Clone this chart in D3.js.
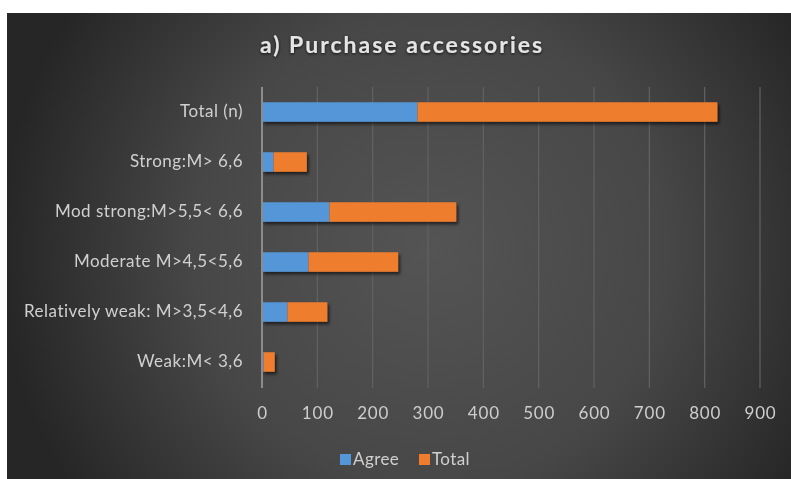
<!DOCTYPE html>
<html>
<head>
<meta charset="utf-8">
<script src="https://cdn.jsdelivr.net/npm/d3@7"></script>
<style>
  html, body { margin: 0; padding: 0; background: #ffffff; }
  svg { display: block; }
</style>
</head>
<body>
<svg id="chart" width="791" height="479"></svg>
<script>
// Attitude groups, top to bottom
const categories = [
  "Total (n)",
  "Strong:M> 6,6",
  "Mod strong:M>5,5< 6,6",
  "Moderate M>4,5<5,6",
  "Relatively weak: M>3,5<4,6",
  "Weak:M< 3,6"
];
// Stacked series values
const agreeValues = [281, 21, 122, 84, 46, 3];
const totalValues = [542, 60, 229, 162, 72, 20];
const seriesNames = ["Agree", "Total"];
const xTicks = [0, 100, 200, 300, 400, 500, 600, 700, 800, 900];
const titleText = "a) Purchase accessories";

const colors = { Agree: "#5596d8", Total: "#ee7d2e" };
const FONT = "Lato, 'Open Sans', sans-serif";

const svg = d3.select("#chart");
const W = 791, H = 479;

// Background panel with a soft radial gradient
const defs = svg.append("defs");
const grad = defs.append("radialGradient")
  .attr("id", "bg").attr("gradientUnits", "userSpaceOnUse")
  .attr("cx", 430).attr("cy", 250).attr("r", 430);
grad.append("stop").attr("offset", "0%").attr("stop-color", "#545454");
grad.append("stop").attr("offset", "55%").attr("stop-color", "#474747");
grad.append("stop").attr("offset", "100%").attr("stop-color", "#262626");

const shadow = defs.append("filter").attr("id", "barShadow")
  .attr("x", "-10%").attr("y", "-30%").attr("width", "130%").attr("height", "180%");
shadow.append("feDropShadow").attr("dx", 2).attr("dy", 2.5)
  .attr("stdDeviation", 1.8).attr("flood-color", "#000").attr("flood-opacity", 0.6);

const glow = defs.append("filter").attr("id", "titleGlow")
  .attr("x", "-10%").attr("y", "-40%").attr("width", "120%").attr("height", "180%");
glow.append("feDropShadow").attr("dx", 0).attr("dy", 1)
  .attr("stdDeviation", 1.5).attr("flood-color", "#000").attr("flood-opacity", 0.8);

const soft = defs.append("filter").attr("id", "soft");
soft.append("feGaussianBlur").attr("stdDeviation", 0.35);

svg.append("rect").attr("x", 7).attr("y", 13)
  .attr("width", W - 7).attr("height", H - 13)
  .attr("fill", "url(#bg)");

// Scales
const x = d3.scaleLinear().domain([0, 900]).range([262, 760]);
const y = d3.scaleBand().domain(categories).range([87, 387])
  .paddingInner(0.61).paddingOuter(0.305);

// Vertical gridlines
svg.append("g").selectAll("line")
  .data(xTicks.slice(1))
  .join("line")
  .attr("x1", d => x(d)).attr("x2", d => x(d))
  .attr("y1", 87).attr("y2", 388)
  .attr("stroke", "#626262").attr("stroke-width", 1.2);

// Stacked bars
const rows = categories.map((c, i) => ({ cat: c, Agree: agreeValues[i], Total: totalValues[i] }));
const stacked = d3.stack().keys(seriesNames)(rows);

const barG = svg.append("g").attr("filter", "url(#barShadow)");
barG.selectAll("g")
  .data(stacked)
  .join("g")
  .attr("fill", d => colors[d.key])
  .selectAll("rect")
  .data(d => d)
  .join("rect")
  .attr("x", d => x(d[0]))
  .attr("width", d => x(d[1]) - x(d[0]))
  .attr("y", d => y(d.data.cat))
  .attr("height", y.bandwidth());

// Category axis line
svg.append("line")
  .attr("x1", x(0)).attr("x2", x(0))
  .attr("y1", 87).attr("y2", 388)
  .attr("stroke", "#8c8c8c").attr("stroke-width", 2);

// Category labels
const yAxis = d3.axisLeft(y).tickSize(0).tickPadding(19);
const yg = svg.append("g").attr("transform", `translate(${x(0)},0)`).call(yAxis);
yg.select(".domain").remove();
yg.selectAll("text")
  .attr("fill", "#d0d0d0")
  .attr("font-family", FONT)
  .attr("font-size", 17)
  .attr("letter-spacing", 0.5)
  .attr("filter", "url(#soft)");

// Value axis labels
const xAxis = d3.axisBottom(x).tickValues(xTicks).tickSize(0).tickPadding(19);
const xg = svg.append("g").attr("transform", "translate(0,388)").call(xAxis);
xg.select(".domain").remove();
xg.selectAll("text")
  .attr("fill", "#cdcdcd")
  .attr("font-family", FONT)
  .attr("font-size", 17)
  .attr("letter-spacing", 0.8)
  .attr("filter", "url(#soft)");

// Title
svg.append("text")
  .attr("x", 402).attr("y", 53)
  .attr("text-anchor", "middle")
  .attr("font-family", FONT)
  .attr("font-weight", "bold")
  .attr("font-size", 23)
  .attr("letter-spacing", 2)
  .attr("fill", "#e4e4e4")
  .attr("filter", "url(#titleGlow)")
  .text(titleText);

// Legend
const legendItems = [
  { key: "Agree", x: 340 },
  { key: "Total", x: 419 }
];
const lg = svg.append("g");
lg.selectAll("rect").data(legendItems).join("rect")
  .attr("x", d => d.x).attr("y", 454)
  .attr("width", 11).attr("height", 11)
  .attr("fill", d => colors[d.key]);
lg.selectAll("text").data(legendItems).join("text")
  .attr("x", d => d.x + 13).attr("y", 465)
  .attr("font-family", FONT)
  .attr("font-size", 17)
  .attr("letter-spacing", 0.4)
  .attr("fill", "#d0d0d0")
  .attr("filter", "url(#soft)")
  .text(d => d.key);
</script>
</body>
</html>
